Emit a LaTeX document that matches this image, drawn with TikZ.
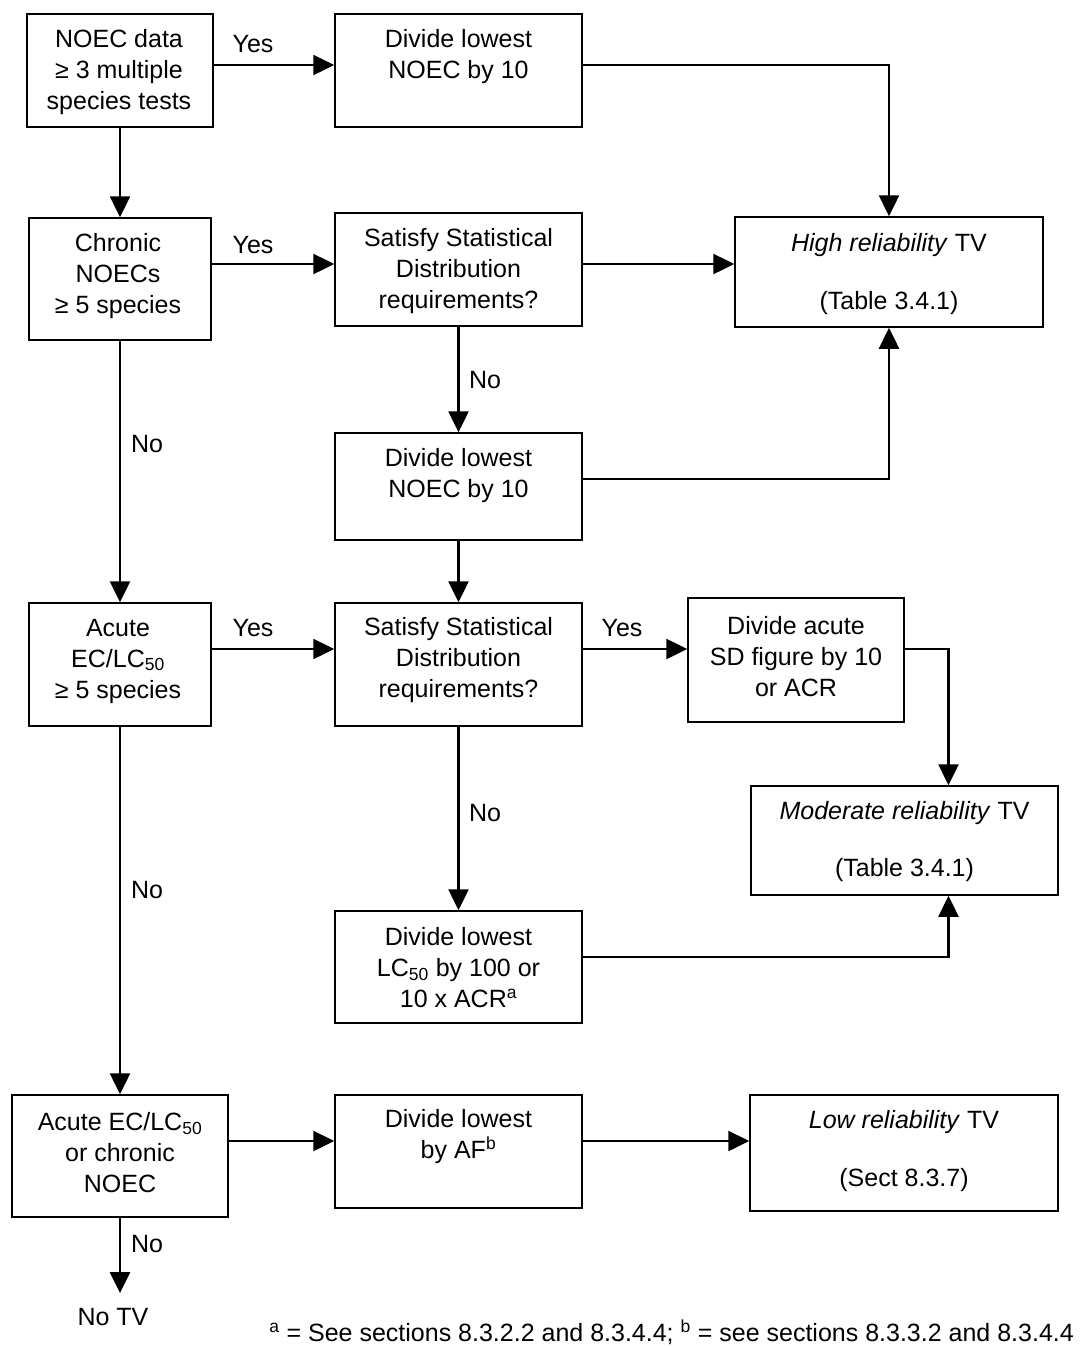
\documentclass[tikz,border=0pt]{standalone}
\usepackage{fontspec}
\setmainfont{Liberation Sans}
\usetikzlibrary{arrows.meta}
\begin{document}
\begin{tikzpicture}[x=1pt,y=-1pt,
  box/.style={draw, line width=1.5pt, rectangle, inner sep=0pt},
  txt/.style={align=center, inner sep=0pt, font=\fontsize{25}{31}\selectfont},
  arr/.style={line width=2.5pt, -{Triangle[length=21pt,width=20pt]}}]
\useasboundingbox (0,0) rectangle (1080,1347);
% boxes
\node[box, minimum width=186pt, minimum height=113pt] (b1) at (120,70.5) {};
\node[box, minimum width=247pt, minimum height=113pt] (b2) at (458.5,70.5) {};
\node[box, minimum width=182pt, minimum height=122pt] (b3) at (120,279) {};
\node[box, minimum width=247pt, minimum height=113pt] (b4) at (458.5,269.5) {};
\node[box, minimum width=308pt, minimum height=110pt] (b5) at (889,272) {};
\node[box, minimum width=247pt, minimum height=107pt] (b6) at (458.5,486.5) {};
\node[box, minimum width=182pt, minimum height=123pt] (b7) at (120,664.5) {};
\node[box, minimum width=247pt, minimum height=123pt] (b8) at (458.5,664.5) {};
\node[box, minimum width=216pt, minimum height=124pt] (b9) at (796,660) {};
\node[box, minimum width=307pt, minimum height=109pt] (b10) at (904.5,840.5) {};
\node[box, minimum width=247pt, minimum height=112pt] (b11) at (458.5,967) {};
\node[box, minimum width=216pt, minimum height=122pt] (b12) at (120,1156) {};
\node[box, minimum width=247pt, minimum height=113pt] (b13) at (458.5,1151.5) {};
\node[box, minimum width=308pt, minimum height=116pt] (b14) at (904,1153) {};
% box texts
\node[txt] (t1) at (119,72) {NOEC data\\≥ 3 multiple\\species tests};
\node[txt] (t2) at (458.5,56.5) {Divide lowest\\NOEC by 10};
\node[txt] (t3) at (118,276) {Chronic\\NOECs\\≥ 5 species};
\node[txt] (t4) at (458.5,271) {Satisfy Statistical\\Distribution\\requirements?};
\node[txt] (t5) at (889,274) {\textit{High reliability} TV\\[27pt](Table 3.4.1)};
\node[txt] (t6) at (458.5,475.5) {Divide lowest\\NOEC by 10};
\node[txt] (t7) at (118,661) {Acute\\EC/LC\textsubscript{50}\\≥ 5 species};
\node[txt] (t8) at (458.5,660) {Satisfy Statistical\\Distribution\\requirements?};
\node[txt] (t9) at (796,656.5) {Divide acute\\SD figure by 10\\or ACR};
\node[txt] (t10) at (904.5,841.5) {\textit{Moderate reliability} TV\\[26pt](Table 3.4.1)};
\node[txt] (t11) at (458.5,967.5) {Divide lowest\\LC\textsubscript{50} by 100 or\\10 x ACR\textsuperscript{a}};
\node[txt] (t12) at (120,1153) {Acute EC/LC\textsubscript{50}\\or chronic\\NOEC};
\node[txt] (t13) at (458.5,1136.5) {Divide lowest\\by AF\textsuperscript{b}};
\node[txt] (t14) at (904,1151) {\textit{Low reliability} TV\\[27pt](Sect 8.3.7)};
% labels
\node[txt] (y1) at (253,44) {Yes};
\node[txt] (y2) at (253,245) {Yes};
\node[txt] (y3) at (253,628) {Yes};
\node[txt] (y4) at (622,628) {Yes};
\node[txt] (n1) at (485,380) {No};
\node[txt] (n2) at (147,444) {No};
\node[txt] (n3) at (485,813) {No};
\node[txt] (n4) at (147,890) {No};
\node[txt] (n5) at (147,1244) {No};
\node[txt] (notv) at (113,1317) {No TV};
\coordinate (notvtop) at ([yshift=15pt]notv.north);
\node[txt, anchor=east] (fn) at (1074,1332) {\textsuperscript{a} = See sections 8.3.2.2 and 8.3.4.4; \textsuperscript{b} = see sections 8.3.3.2 and 8.3.4.4};
% connectors
\draw[arr] (b1.east |- 0,65) -- (b2.west |- 0,65);
\draw[arr] (b2.east |- 0,65) -| (b5.north);
\draw[arr] (b1.south) -- (b3.north);
\draw[arr] (b3.east |- 0,264) -- (b4.west |- 0,264);
\draw[arr] (b4.east |- 0,264) -- (b5.west |- 0,264);
\draw[arr] (b4.south) -- (b6.north);
\draw[arr] (b6.east |- 0,479) -| (b5.south);
\draw[arr] (b3.south) -- (b7.north);
\draw[arr] (b6.south) -- (b8.north);
\draw[arr] (b7.east |- 0,649) -- (b8.west |- 0,649);
\draw[arr] (b8.east |- 0,649) -- (b9.west |- 0,649);
\draw[arr] (b9.east |- 0,649) -| ([xshift=44pt]b10.north);
\draw[arr] (b8.south) -- (b11.north);
\draw[arr] (b11.east |- 0,957) -| ([xshift=44pt]b10.south);
\draw[arr] (b7.south) -- (b12.north);
\draw[arr] (b12.east |- 0,1141) -- (b13.west |- 0,1141);
\draw[arr] (b13.east |- 0,1141) -- (b14.west |- 0,1141);
\draw[arr] (b12.south) -- (b12.south |- notvtop);
\end{tikzpicture}
\end{document}
